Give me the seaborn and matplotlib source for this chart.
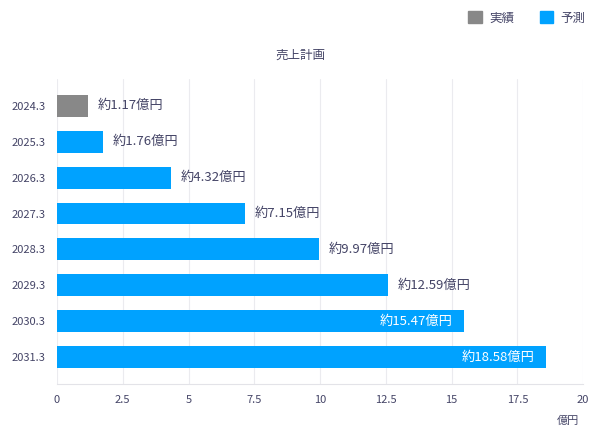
import pandas as pd
import numpy as np
import matplotlib.pyplot as plt
import seaborn as sns
from matplotlib.patches import Patch

# data
years = ['2024.3', '2025.3', '2026.3', '2027.3', '2028.3', '2029.3', '2030.3', '2031.3']
sales = [1.17, 1.76, 4.32, 7.15, 9.97, 12.59, 15.47, 18.58]
kind = ['実績', '予測', '予測', '予測', '予測', '予測', '予測', '予測']
xticks = [0, 2.5, 5, 7.5, 10, 12.5, 15, 17.5, 20]
xtick_labels = ['0', '2.5', '5', '7.5', '10', '12.5', '15', '17.5', '20']

df = pd.DataFrame({'year': years, 'sales': sales, 'kind': kind})

sns.set_theme(style='white')
plt.rcParams['font.family'] = ['Noto Sans CJK JP', 'DejaVu Sans']

txt = '#444466'
colors = {'実績': '#888888', '予測': '#00a2ff'}

fig = plt.figure(figsize=(6, 4.38), dpi=100)
ax = fig.add_axes([0.095, 0.123, 0.877, 0.697])

sns.barplot(data=df, y='year', x='sales', hue='kind', palette=colors,
            orient='h', width=0.61, dodge=False, legend=False, saturation=1,
            edgecolor='none', ax=ax)

ax.set_xlim(0, 20)
ax.set_ylim(7.75, -0.75)
ax.set_xticks(xticks)
ax.set_xticklabels(xtick_labels)
ax.tick_params(axis='both', labelsize=8, colors=txt, length=0, pad=8)
ax.set_xlabel('')
ax.set_ylabel('')

ax.grid(axis='x', color='#ebebef', linewidth=0.8)
ax.set_axisbelow(True)
for s in ['top', 'right', 'left']:
    ax.spines[s].set_visible(False)
ax.spines['bottom'].set_color('#e3e3e8')
ax.spines['bottom'].set_linewidth(0.8)

# value labels
for i, v in enumerate(sales):
    label = f'約{v:.2f}億円'
    if v > 15:
        ax.annotate(label, (v, i), xytext=(-8, 0), textcoords='offset points',
                    ha='right', va='center', fontsize=9.5, color='white')
    else:
        ax.annotate(label, (v, i), xytext=(7, 0), textcoords='offset points',
                    ha='left', va='center', fontsize=9.5, color=txt)

fig.text(0.965, 0.038, '億円', ha='right', va='center', fontsize=8, color=txt)
fig.text(0.5, 0.873, '売上計画', ha='center', va='center', fontsize=9, color=txt)

handles = [Patch(color=colors['実績'], label='実績'), Patch(color=colors['予測'], label='予測')]
fig.legend(handles=handles, loc='upper right', bbox_to_anchor=(0.995, 1.0), ncol=2,
           frameon=False, fontsize=9, labelcolor=txt, handlelength=1.1, handleheight=1.1,
           columnspacing=2.0, handletextpad=0.6)

fig.savefig('out.png', dpi=100)
